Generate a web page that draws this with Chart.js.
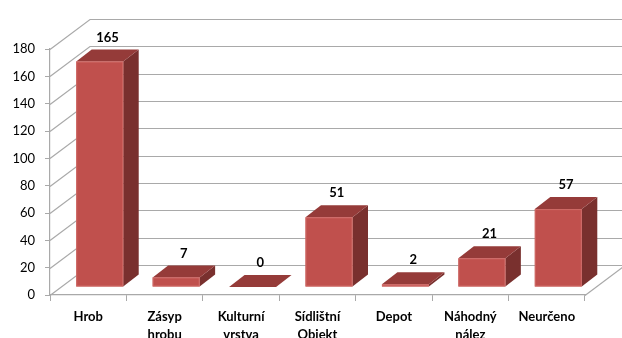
<!DOCTYPE html>
<html lang="cs">
<head>
<meta charset="UTF-8">
<title>Nálezové okolnosti</title>
<style>
  html, body { margin: 0; padding: 0; background: #fff; }
  .chart-container { width: 622px; height: 338px; }
</style>
</head>
<body>
<div class="chart-container">
  <canvas id="finds-chart"></canvas>
</div>

<script src="https://cdn.jsdelivr.net/npm/chart.js"></script>
<script>
// categories and counts
const categories = ['Hrob', 'Zásyp hrobu', 'Kulturní vrstva', 'Sídlištní Objekt', 'Depot', 'Náhodný nález', 'Neurčeno'];
const counts = [165, 7, 0, 51, 2, 21, 57];
const yMax = 180;
const yStep = 20;

// 3d look: depth of the walls, where the bars stand and how deep they are
const WALL = { x: 40, y: -30 };
const SHIFT = { x: 11.5, y: -8 };
const DEPTH = { x: 15.5, y: -12 };

const GRID = '#a9a9a9';
const FRONT = '#c0504d';
const TOP = '#953b39';
const SIDE = '#79302e';

const walls = {
  id: 'walls',
  beforeDatasetsDraw(chart) {
    const { ctx, chartArea, scales } = chart;
    const y = scales.y;
    ctx.save();
    ctx.strokeStyle = GRID;
    ctx.lineWidth = 1.2;
    y.ticks.forEach(t => {
      const py = Math.round(y.getPixelForValue(t.value)) + 0.5;
      ctx.beginPath();
      ctx.moveTo(chartArea.left, py);
      ctx.lineTo(chartArea.left + WALL.x, py + WALL.y);
      ctx.lineTo(chartArea.right + WALL.x, py + WALL.y);
      ctx.stroke();
    });
    // right edge of the floor
    ctx.beginPath();
    ctx.moveTo(chartArea.right, chartArea.bottom + 0.5);
    ctx.lineTo(chartArea.right + WALL.x, chartArea.bottom + 0.5 + WALL.y);
    ctx.stroke();
    ctx.restore();
  },
  afterDatasetsDraw(chart) {
    const { ctx } = chart;
    const meta = chart.getDatasetMeta(0);
    ctx.save();
    meta.data.forEach((bar, i) => {
      const x0 = bar.x - bar.width / 2 + SHIFT.x;
      const x1 = x0 + bar.width;
      const yb = bar.base + SHIFT.y;
      const yt = bar.y + SHIFT.y;

      // side
      ctx.fillStyle = SIDE;
      ctx.beginPath();
      ctx.moveTo(x1, yt);
      ctx.lineTo(x1 + DEPTH.x, yt + DEPTH.y);
      ctx.lineTo(x1 + DEPTH.x, yb + DEPTH.y);
      ctx.lineTo(x1, yb);
      ctx.closePath();
      ctx.fill();

      // top
      ctx.fillStyle = TOP;
      ctx.beginPath();
      ctx.moveTo(x0, yt);
      ctx.lineTo(x0 + DEPTH.x, yt + DEPTH.y);
      ctx.lineTo(x1 + DEPTH.x, yt + DEPTH.y);
      ctx.lineTo(x1, yt);
      ctx.closePath();
      ctx.fill();

      // front
      if (yb - yt > 0) {
        ctx.fillStyle = FRONT;
        ctx.fillRect(x0, yt, bar.width, yb - yt);
        ctx.strokeStyle = '#cf6a67';
        ctx.lineWidth = 1;
        ctx.strokeRect(x0 + 0.5, yt + 0.5, bar.width - 1, yb - yt - 1);
      }

      // value label
      ctx.fillStyle = '#000';
      ctx.font = 'bold 13px Lato';
      ctx.textAlign = 'center';
      ctx.textBaseline = 'middle';
      ctx.fillText(String(counts[i]), (x0 + x1) / 2 + DEPTH.x / 2, yt + DEPTH.y - 12);
    });
    ctx.restore();
  }
};

const ctx = document.getElementById('finds-chart').getContext('2d');

new Chart(ctx, {
  type: 'bar',
  data: {
    labels: categories.map(c => c.split(' ')),
    datasets: [{
      data: counts,
      backgroundColor: 'rgba(0,0,0,0)',
      barPercentage: 0.615,
      categoryPercentage: 1
    }]
  },
  options: {
    responsive: true,
    maintainAspectRatio: false,
    animation: false,
    layout: { padding: { top: 49, right: 37, bottom: 0, left: 0 } },
    plugins: {
      legend: { display: false },
      tooltip: { enabled: false }
    },
    scales: {
      x: {
        afterFit(scale) { scale.height = 43; },
        grid: { drawOnChartArea: false, tickLength: 6, color: GRID, offset: true },
        border: { color: GRID, width: 1.2 },
        ticks: {
          color: '#000',
          padding: 7,
          maxRotation: 0,
          autoSkip: false,
          font: { family: 'Lato', size: 13, weight: 'bold', lineHeight: 1.35 }
        }
      },
      y: {
        min: 0,
        max: yMax,
        afterFit(scale) { scale.width = 50; },
        grid: { drawOnChartArea: false, tickLength: 5, color: GRID },
        border: { color: GRID, width: 1.2 },
        ticks: {
          stepSize: yStep,
          color: '#000',
          padding: 10,
          font: { family: 'Lato', size: 13 }
        }
      }
    }
  },
  plugins: [walls]
});
</script>
</body>
</html>
